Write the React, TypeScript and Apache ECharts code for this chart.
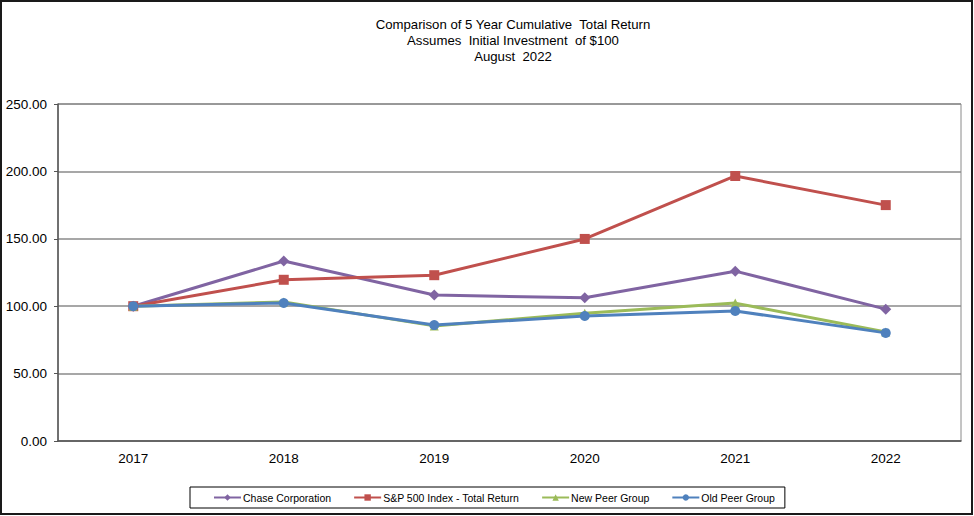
import React, { useEffect, useRef } from "react";
import * as echarts from "echarts";

const years = ["2017", "2018", "2019", "2020", "2021", "2022"];
const chase = [100, 133.5, 108.3, 106.2, 126.0, 97.8];
const sp500 = [100, 119.6, 123.0, 149.9, 196.6, 175.0];
const newPeer = [100, 103.2, 85.4, 94.8, 102.3, 80.9];
const oldPeer = [100, 102.4, 86.0, 92.7, 96.5, 80.2];
const titleLines = [
  "Comparison of 5 Year Cumulative  Total Return",
  "Assumes  Initial Investment  of $100",
  "August  2022",
];

const FONT = "'Liberation Sans', Arial, sans-serif";

export default function App() {
  const ref = useRef<HTMLDivElement>(null);
  useEffect(() => {
    if (!ref.current) return;
    const chart = echarts.init(ref.current, undefined, { renderer: "svg" });
    const mk = (name: string, data: number[], color: string, symbol: string, size: number) => ({
      name,
      type: "line",
      data,
      symbol,
      symbolSize: size,
      showAllSymbol: true,
      lineStyle: { width: 3, color },
      itemStyle: { color },
      emphasis: { disabled: true },
    });
    chart.setOption({
      animation: false,
      textStyle: { fontFamily: FONT },
      graphic: [
        {
          type: "rect",
          shape: { x: 1, y: 1, width: 971, height: 513 },
          style: { fill: "none", stroke: "#1a1a1a", lineWidth: 2 },
          silent: true,
        },
        ...titleLines.map((t, i) => ({
          type: "text",
          x: 513,
          y: 24 + i * 16,
          style: {
            text: t,
            fill: "#000",
            font: `13.2px ${FONT}`,
            textAlign: "center",
            textVerticalAlign: "middle",
          },
          silent: true,
        })),
      ],
      grid: {
        left: 58,
        right: 13,
        top: 104,
        bottom: 75,
        show: true,
        borderColor: "#8a8a8a",
        borderWidth: 1,
        containLabel: false,
      },
      legend: {
        left: 190,
        top: 487,
        orient: "horizontal",
        borderColor: "#000",
        borderWidth: 1,
        padding: [5, 10, 5, 23],
        itemGap: 22,
        itemWidth: 27,
        itemHeight: 8,
        textStyle: { fontSize: 10.5, color: "#000", fontFamily: FONT, padding: [0, 0, 0, -3] },
        data: ["Chase Corporation", "S&P 500 Index - Total Return", "New Peer Group", "Old Peer Group"],
      },
      xAxis: {
        type: "category",
        data: years,
        boundaryGap: true,
        axisLine: { lineStyle: { color: "#555", width: 1.5 } },
        axisTick: { alignWithLabel: true, length: 4, lineStyle: { color: "#555" } },
        axisLabel: { fontSize: 13.5, color: "#000", margin: 10, fontFamily: FONT },
        splitLine: { show: false },
      },
      yAxis: {
        type: "value",
        min: 0,
        max: 250,
        interval: 50,
        axisLine: { show: true, lineStyle: { color: "#555", width: 1.5 } },
        axisTick: { show: true, length: 4, lineStyle: { color: "#555" } },
        axisLabel: {
          fontSize: 13.5,
          color: "#000",
          margin: 11,
          fontFamily: FONT,
          formatter: (v: number) => v.toFixed(2),
        },
        splitLine: { lineStyle: { color: "#8a8a8a", width: 1.5 } },
      },
      series: [
        mk("Chase Corporation", chase, "#8064A2", "diamond", 11),
        mk("S&P 500 Index - Total Return", sp500, "#C0504D", "rect", 10),
        mk("New Peer Group", newPeer, "#9BBB59", "triangle", 9),
        mk("Old Peer Group", oldPeer, "#4F81BD", "circle", 10),
      ],
    });
    return () => chart.dispose();
  }, []);
  return (
    <div
      ref={ref}
      style={{ position: "fixed", left: 0, top: 0, width: 974, height: 516, background: "#fff" }}
    />
  );
}
